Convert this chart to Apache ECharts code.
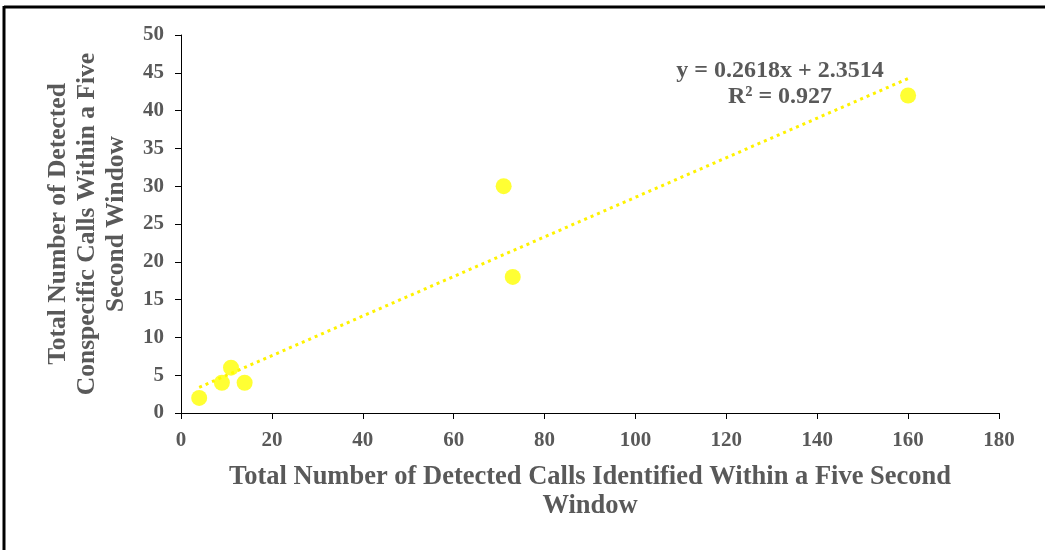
<!DOCTYPE html>
<html>
<head>
<meta charset="utf-8">
<script src="https://cdn.jsdelivr.net/npm/echarts@6/dist/echarts.min.js"></script>
<style>
  html, body { margin: 0; padding: 0; background: #fff; }
  #chart { width: 1045px; height: 550px; }
</style>
</head>
<body>
<div id="chart"></div>
<script>
// Detected calls (x) vs conspecific calls (y) within a five second window
const totalCalls = [4, 9, 11, 14, 71, 73, 160];
const conspecificCalls = [2, 4, 6, 4, 30, 18, 42];

// Linear trend line as reported: y = 0.2618x + 2.3514, R² = 0.927
const trendSlope = 0.2618;
const trendIntercept = 2.3514;
const trendR2 = 0.927;
const trendRange = [4, 160];

const xTicks = { min: 0, max: 180, interval: 20 };
const yTicks = { min: 0, max: 50, interval: 5 };

const textGray = '#595959';
const serif = '"Liberation Serif", "Times New Roman", serif';

const points = totalCalls.map((x, i) => [x, conspecificCalls[i]]);
const trendPoints = trendRange.map(x => [x, trendSlope * x + trendIntercept]);

const chart = echarts.init(document.getElementById('chart'), null, { renderer: 'canvas' });

chart.setOption({
  backgroundColor: '#fff',
  animation: false,
  grid: { left: 181, right: 46, top: 35, bottom: 137, containLabel: false },
  xAxis: {
    type: 'value',
    min: xTicks.min, max: xTicks.max, interval: xTicks.interval,
    name: 'Total Number of Detected Calls Identified Within a Five Second\nWindow',
    nameLocation: 'middle',
    nameGap: 50,
    nameTextStyle: { color: textGray, fontFamily: serif, fontWeight: 'bold', fontSize: 26.5, lineHeight: 29 },
    axisLine: { lineStyle: { color: '#000', width: 1 } },
    axisTick: { show: true, length: 6, lineStyle: { color: '#000' } },
    axisLabel: { color: textGray, fontFamily: serif, fontWeight: 'bold', fontSize: 21, margin: 17 },
    splitLine: { show: false }
  },
  yAxis: {
    type: 'value',
    min: yTicks.min, max: yTicks.max, interval: yTicks.interval,
    name: 'Total Number of Detected\nConspecific Calls Within a Five\nSecond Window',
    nameLocation: 'middle',
    nameGap: 50,
    nameTextStyle: { color: textGray, fontFamily: serif, fontWeight: 'bold', fontSize: 25.5, lineHeight: 29 },
    axisLine: { show: true, lineStyle: { color: '#000', width: 1 } },
    axisTick: { show: true, length: 6, lineStyle: { color: '#000' } },
    axisLabel: { color: textGray, fontFamily: serif, fontWeight: 'bold', fontSize: 21, margin: 17 },
    splitLine: { show: false }
  },
  graphic: [
    // outer frame (top and left edges)
    { type: 'line', shape: { x1: 4, y1: 7, x2: 1045, y2: 7 }, style: { stroke: '#000', lineWidth: 3 }, z: 10 },
    { type: 'line', shape: { x1: 4, y1: 6, x2: 4, y2: 550 }, style: { stroke: '#000', lineWidth: 3 }, z: 10 },
    // regression equation
    {
      type: 'text', z: 20,
      style: {
        x: 780, y: 71,
        text: 'y = ' + trendSlope + 'x + ' + trendIntercept,
        fill: textGray, font: 'bold 24px ' + serif,
        textAlign: 'center', textVerticalAlign: 'middle'
      }
    },
    {
      type: 'text', z: 20,
      style: {
        x: 780, y: 97,
        text: 'R² = ' + trendR2,
        fill: textGray, font: 'bold 24px ' + serif,
        textAlign: 'center', textVerticalAlign: 'middle'
      }
    }
  ],
  series: [
    {
      type: 'line',
      data: trendPoints,
      symbol: 'none',
      lineStyle: { color: '#FFF200', width: 3, type: [3, 4], cap: 'butt' },
      z: 2
    },
    {
      type: 'scatter',
      data: points,
      symbol: 'circle',
      symbolSize: 16,
      itemStyle: { color: '#FFFF00' },
      z: 3
    }
  ]
});
</script>
</body>
</html>
